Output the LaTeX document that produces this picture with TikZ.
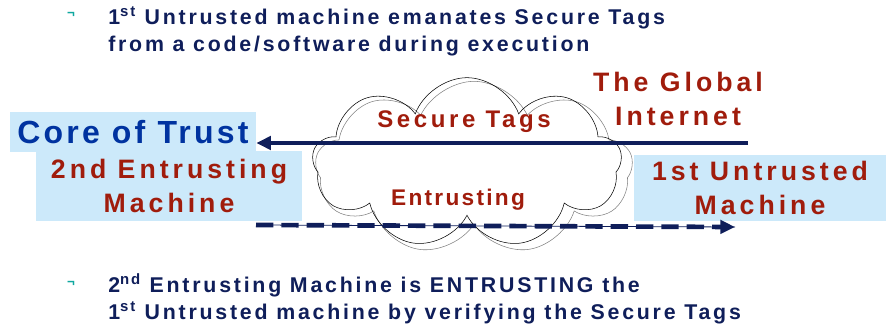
\documentclass[tikz,border=0pt]{standalone}
\usepackage{fontspec}
\setmainfont{Liberation Sans}
\newfontfamily\widefont[LetterSpace=10]{Liberation Sans}
\newfontfamily\redfont[LetterSpace=15]{Liberation Sans}
\newfontfamily\notefont[LetterSpace=13]{Liberation Sans}
\usepackage{tikz}
\usetikzlibrary{arrows.meta,positioning,shapes.symbols}
\definecolor{TrustBlue}{HTML}{0033A0}
\definecolor{NavyInk}{HTML}{0F1E5A}
\definecolor{BrickRed}{HTML}{A01C0C}
\definecolor{PaleBlue}{HTML}{CCE9FA}
\definecolor{TealMark}{HTML}{10A8A0}

\begin{document}
\begin{tikzpicture}[x=0.75pt, y=-0.75pt, every node/.style={font=\widefont\bfseries, inner sep=0pt}]
\tikzset{box/.style={fill=PaleBlue, align=center, text=BrickRed}}
\tikzset{note/.style={align=left, anchor=north west, text=NavyInk, font=\notefont\bfseries\fontsize{16}{20.5}\selectfont}}
\tikzset{bulletmark/.style={text=TealMark, font=\bfseries\fontsize{10}{10}\selectfont}}
\tikzset{redtext/.style={text=BrickRed, align=center, font=\redfont\bfseries\fontsize{20}{26}\selectfont}}
\tikzset{bigarrow/.style={-{Triangle[length=11pt,width=10pt]}, line width=3.5pt, NavyInk}}
\useasboundingbox (0,0) rectangle (886,324);

% the internet cloud, two outlines
\node[cloud, draw=gray, cloud puffs=9, cloud puff arc=130, cloud ignores aspect, minimum width=238pt, minimum height=130pt, shape border rotate=15] (cloudB) at (474,168) {};
\node[cloud, draw=black, cloud puffs=9, cloud puff arc=140, cloud ignores aspect, minimum width=232pt, minimum height=128pt] (cloudA) at (467,163) {};

\node[box, minimum width=199.5pt, minimum height=52.5pt, font=\redfont\bfseries\fontsize{20}{26}\selectfont] (entruster) at (169,186) {2nd Entrusting\\Machine};
\node[box, minimum width=184.5pt, minimum height=30pt, text=TrustBlue, font=\widefont\bfseries\fontsize{24}{26}\selectfont] (core) at (133,132) {Core of Trust};
\node[box, minimum width=189pt, minimum height=50pt, font=\redfont\bfseries\fontsize{20}{26}\selectfont] (untrusted) at (760,188) {1st Untrusted\\Machine};

\node[redtext] (internet) at (678,99) {The Global\\Internet};
\node[redtext, font=\redfont\bfseries\fontsize{18}{20}\selectfont] (tagsLabel) at (464,122) {Secure Tags};
\node[redtext, font=\widefont\bfseries\fontsize{17}{20}\selectfont] (entrustLabel) at (458,200) {Entrusting};

% connectors
\coordinate (tagsStart) at (748,143);
\coordinate (dashStart) at (256,225);
\coordinate (dashEnd) at (735,227);
\draw[bigarrow] (tagsStart) -- (tagsStart -| core.east);
\draw[NavyInk, semithick] (dashStart) -- (dashEnd);
\draw[bigarrow, line width=3.5pt, dash pattern=on 13pt off 6pt] (dashStart) -- (dashEnd);

% bullet notes
\node[bulletmark] (markTop) at (71,15) {¬};
\node[note] (noteTop) at (108,6) {1\textsuperscript{st} Untrusted machine emanates Secure Tags\\from a code/software during execution};
\node[bulletmark] (markBottom) at (71,284) {¬};
\node[note] (noteBottom) at (108,273) {2\textsuperscript{nd} Entrusting Machine is ENTRUSTING the\\1\textsuperscript{st} Untrusted machine by verifying the Secure Tags};
\end{tikzpicture}
\end{document}
